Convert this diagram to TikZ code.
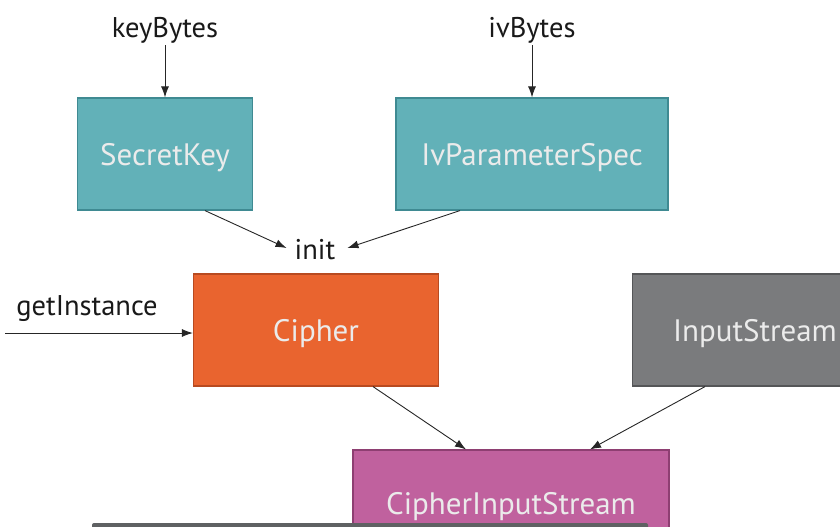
\documentclass[tikz,border=0pt]{standalone}
\usepackage{fontspec}
\setmainfont{PT Sans}
\usetikzlibrary{arrows.meta}
\definecolor{tealfill}{HTML}{62B1B8}
\definecolor{tealline}{HTML}{3F8A92}
\definecolor{orangefill}{HTML}{E9642F}
\definecolor{orangeline}{HTML}{B84A20}
\definecolor{grayfill}{HTML}{7A7B7D}
\definecolor{grayline}{HTML}{555658}
\definecolor{pinkfill}{HTML}{C0619E}
\definecolor{pinkline}{HTML}{8E3F72}
\definecolor{barfill}{HTML}{5F6163}
\begin{document}
\begin{tikzpicture}[
    x=1pt, y=-1pt,
    box/.style={draw, line width=1.2pt, minimum height=112pt, align=center, text depth=0pt,
        font=\fontsize{31}{36}\selectfont, text=white!92!black},
    label/.style={font=\fontsize{28.5}{32}\selectfont, text=black!90, inner sep=2pt},
    link/.style={-{Latex[length=11pt,width=8pt]}, line width=0.9pt, black!85},
]
    \clip (0,0) rectangle (840,527);
    \useasboundingbox (0,0) rectangle (840,527);

    % Inputs
    \node[label] (keyBytes) at (165, 30) {keyBytes};
    \node[label] (ivBytes) at (532, 30) {ivBytes};
    \node[label] (getInstance) at (87, 309) {getInstance};
    \node[label] (init) at (315, 250) {init};
    \coordinate (getStart) at (5, 333);

    % Boxes
    \node[box, fill=tealfill, draw=tealline, minimum width=175pt] (secretKey) at (165, 154) {SecretKey};
    \node[box, fill=tealfill, draw=tealline, minimum width=272pt] (ivSpec) at (532, 154) {IvParameterSpec};
    \node[box, fill=orangefill, draw=orangeline, minimum width=245pt] (cipher) at (316, 330) {Cipher};
    \node[box, fill=grayfill, draw=grayline, minimum width=245pt] (inStream) at (755, 330) {InputStream};
    \node[box, fill=pinkfill, draw=pinkline, minimum width=316pt, minimum height=114pt] (cipherIn) at (511, 507) {};
    \node[font=\fontsize{31}{36}\selectfont, text depth=0pt, text=white!92!black] (cipherInText) at (511, 503) {CipherInputStream};

    % Bar below
    \fill[barfill, rounded corners=2pt] (92, 523) rectangle (648, 560);

    % Links
    \draw[link] (keyBytes.south) -- (secretKey.north);
    \draw[link] (ivBytes.south) -- (ivSpec.north);
    \draw[link] ([xshift=40pt]secretKey.south) -- ([xshift=-6pt,yshift=2pt]init.west);
    \draw[link] ([xshift=-72pt]ivSpec.south) -- ([xshift=10pt,yshift=2pt]init.east);
    \draw[link] (getStart) -- (cipher.west |- getStart);
    \draw[link] ([xshift=57pt]cipher.south) -- ([xshift=-45pt]cipherIn.north);
    \draw[link] ([xshift=-50pt]inStream.south) -- ([xshift=79pt]cipherIn.north);
\end{tikzpicture}
\end{document}
